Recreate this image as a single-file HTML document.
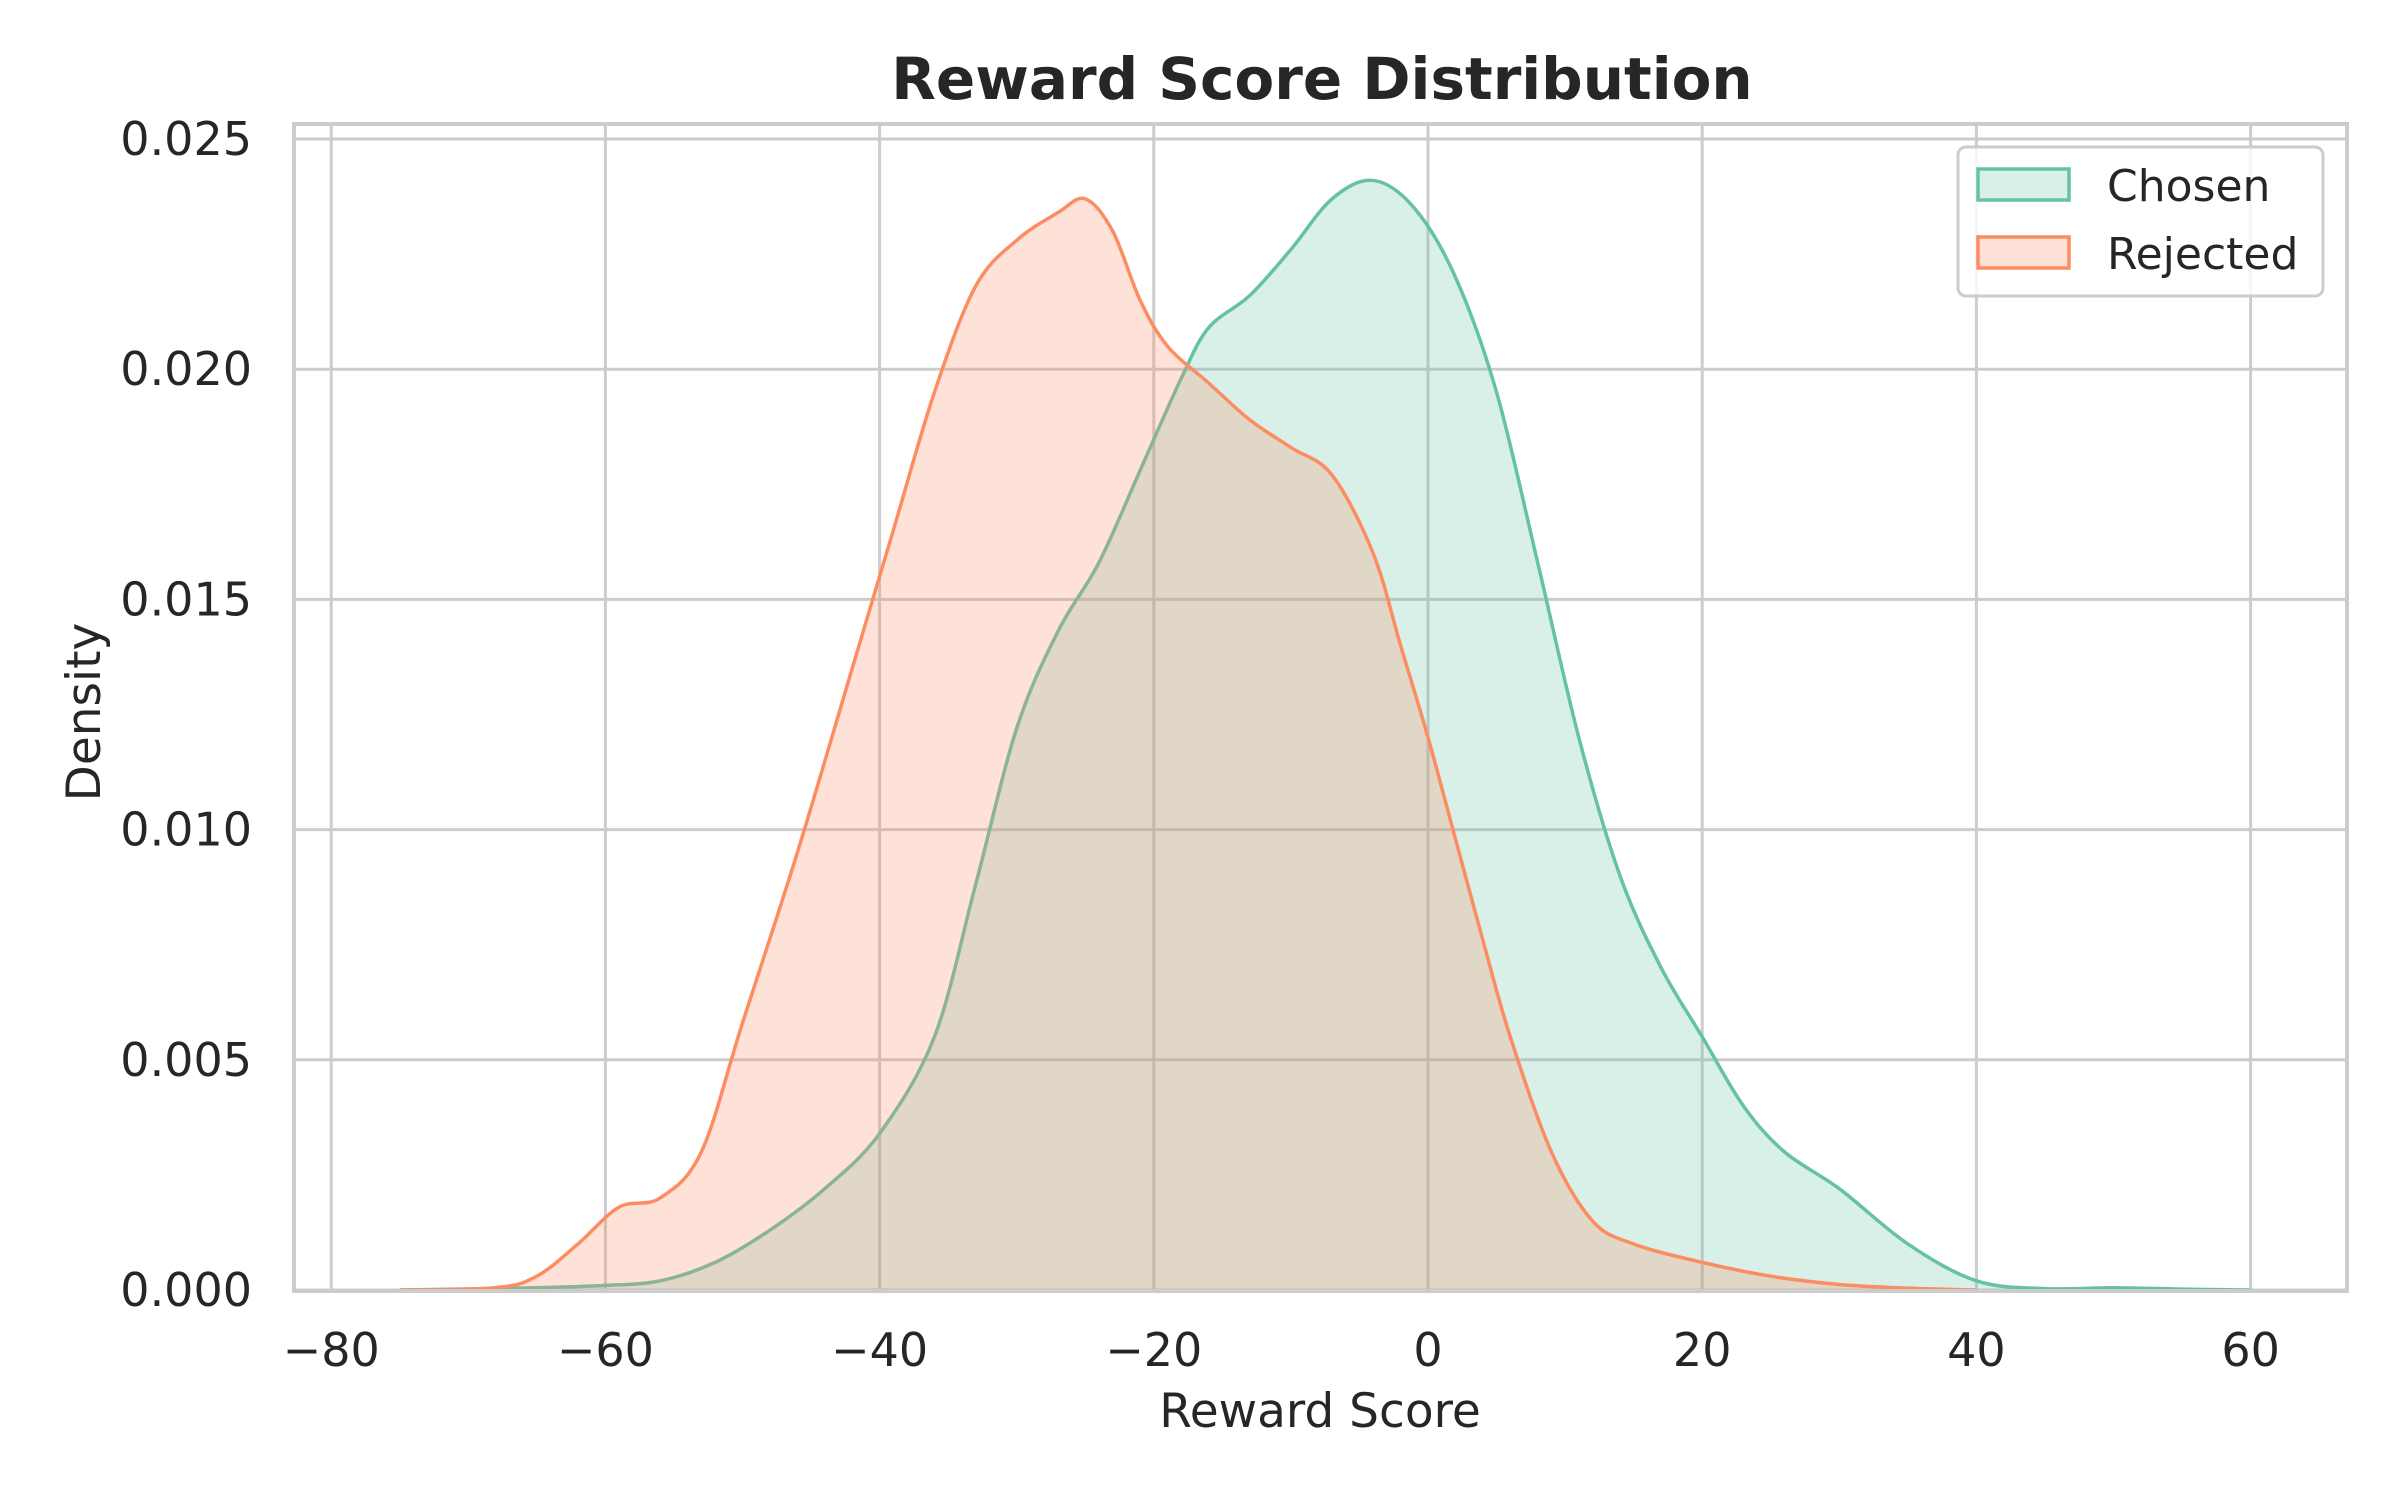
<!DOCTYPE html>
<html><head><meta charset="utf-8"><style>
html,body{margin:0;padding:0;background:#fff;}
svg{display:block;font-family:"DejaVu Sans","Liberation Sans",sans-serif;}
</style></head><body>
<svg id="chart" width="2400" height="1500" viewBox="0 0 2400 1500">
<g id="grid"></g>
<g id="series"></g>
<rect x="294" y="124" width="2053" height="1167" fill="none" stroke="#cccccc" stroke-width="4"/>
<g id="ticks"></g>
<text x="1322" y="99" text-anchor="middle" font-size="58" font-weight="bold" fill="#262626">Reward Score Distribution</text>
<text x="1320" y="1427" text-anchor="middle" font-size="47" fill="#262626">Reward Score</text>
<text transform="translate(100,712) rotate(-90)" text-anchor="middle" font-size="47" fill="#262626">Density</text>
<g>
<rect x="1958" y="147" width="365" height="149" rx="8" fill="#ffffff" fill-opacity="0.8" stroke="#cccccc" stroke-width="3"/>
<rect x="1978" y="169" width="91" height="31" fill="#66c2a5" fill-opacity="0.25" stroke="#66c2a5" stroke-width="3.5"/>
<text x="2107" y="201" font-size="44" fill="#262626">Chosen</text>
<rect x="1978" y="237" width="91" height="31" fill="#fc8d62" fill-opacity="0.25" stroke="#fc8d62" stroke-width="3.5"/>
<text x="2107" y="269" font-size="44" fill="#262626">Rejected</text>
</g>
</svg>
<script>
const xTicks = [-80,-60,-40,-20,0,20,40,60];
const yTicks = [0,0.005,0.010,0.015,0.020,0.025];
const yTickLabels = ["0.000","0.005","0.010","0.015","0.020","0.025"];
const chosenX = [-75,-65,-60,-56,-52,-48,-44,-40,-36,-33,-30,-27,-24,-21,-18,-16,-13,-10,-7,-4,-1,2,5,8,11,14,17,20,23,26,30,35,40,45,50,55,60];
const chosenY = [0,0.00005,0.0001,0.0002,0.0006,0.0013,0.0022,0.0034,0.0055,0.0088,0.0122,0.0143,0.0158,0.0178,0.0198,0.0209,0.0216,0.0226,0.0237,0.0241,0.0235,0.0220,0.0195,0.0158,0.0120,0.0090,0.0070,0.0055,0.0040,0.0030,0.0022,0.0010,0.0002,0.00003,0.00005,0.00002,0];
const rejectedX = [-75,-68,-65,-62,-59,-56,-53,-50,-46,-42,-39,-36,-33,-30,-27,-25,-23,-21,-19,-16,-13,-10,-7,-4,-2,0,2,4,6,9,12,15,20,25,30,35,40];
const rejectedY = [0,0.00005,0.0003,0.0010,0.0018,0.0020,0.0030,0.0058,0.0095,0.0135,0.0165,0.0195,0.0218,0.0228,0.0234,0.0237,0.0230,0.0215,0.0205,0.0197,0.0189,0.0183,0.0177,0.0160,0.0140,0.0120,0.0098,0.0076,0.0055,0.0030,0.0015,0.0010,0.0006,0.0003,0.00012,0.00004,0];

const X0=1428, XPER=274.2/20, Y0=1290, YPER=230.2/0.005;
function sx(v){return X0+v*XPER;}
function sy(v){return Y0-v*YPER;}
const NS="http://www.w3.org/2000/svg";
function mk(tag,attrs,parent){const e=document.createElementNS(NS,tag);for(const k in attrs)e.setAttribute(k,attrs[k]);parent.appendChild(e);return e;}
const grid=document.getElementById('grid'), ticks=document.getElementById('ticks'), series=document.getElementById('series');
xTicks.forEach(t=>{
  const l=mk('line',{x1:sx(t),x2:sx(t),y1:124,y2:1290,stroke:'#cccccc','stroke-width':3},grid);
  
  
  const tl=mk('text',{x:sx(t),y:1366,'text-anchor':'middle','font-size':46,fill:'#262626'},ticks);
  tl.textContent=(t<0?'\u2212':'')+Math.abs(t);
  
  
});
yTicks.forEach((t,i)=>{
  const l=mk('line',{x1:294,x2:2347,y1:sy(t),y2:sy(t),stroke:'#cccccc','stroke-width':3},grid);
  
  
  const tl=mk('text',{x:252,y:sy(t)+16,'text-anchor':'end','font-size':46,fill:'#262626'},ticks);
  tl.textContent=yTickLabels[i];
  
  
});
function smooth(xs,ys){
  const p=xs.map((x,i)=>[sx(x),sy(ys[i])]);
  let d='M'+p[0][0]+','+p[0][1];
  for(let i=0;i<p.length-1;i++){
    const p0=p[Math.max(0,i-1)],p1=p[i],p2=p[i+1],p3=p[Math.min(p.length-1,i+2)];
    const c1=[p1[0]+(p2[0]-p0[0])/6,p1[1]+(p2[1]-p0[1])/6];
    const c2=[p2[0]-(p3[0]-p1[0])/6,p2[1]-(p3[1]-p1[1])/6];
    c1[1]=Math.min(c1[1],Y0);c2[1]=Math.min(c2[1],Y0);
    d+=' C'+c1[0]+','+c1[1]+' '+c2[0]+','+c2[1]+' '+p2[0]+','+p2[1];
  }
  return d;
}
function draw(xs,ys,color,name){
  const d=smooth(xs,ys);
  const a=mk('path',{d:d+' L'+sx(xs[xs.length-1])+','+Y0+' L'+sx(xs[0])+','+Y0+' Z',fill:color,'fill-opacity':0.25,stroke:'none'},series);
  
  
  const l=mk('path',{d:d,fill:'none',stroke:color,'stroke-width':3.5},series);
  
  
}
draw(chosenX,chosenY,'#66c2a5','chosen');
draw(rejectedX,rejectedY,'#fc8d62','rejected');
</script>
</body></html>
